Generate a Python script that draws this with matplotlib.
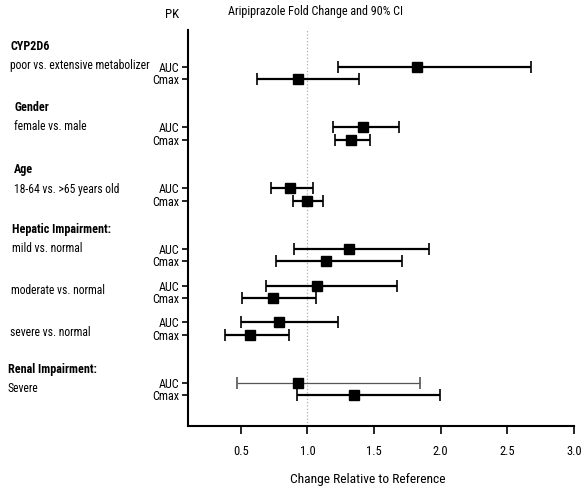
import matplotlib
matplotlib.use("Agg")
import matplotlib.pyplot as plt

# ---------------- data ----------------
groups = ["CYP2D6", "Gender", "Age", "Hepatic Impairment:", "", "", "Renal Impairment:"]
comparisons = ["poor vs. extensive metabolizer", "female vs. male", "18-64 vs. >65 years old",
               "mild vs. normal", "moderate vs. normal", "severe vs. normal", "Severe"]
pk_params = ["AUC", "Cmax"]

auc_point = [1.82, 1.42, 0.87, 1.31, 1.07, 0.785, 0.93]
auc_low   = [1.23, 1.19, 0.73, 0.90, 0.69, 0.50, 0.475]
auc_high  = [2.68, 1.69, 1.04, 1.91, 1.67, 1.23, 1.845]

cmax_point = [0.93, 1.33, 1.00, 1.14, 0.74, 0.57, 1.35]
cmax_low   = [0.625, 1.21, 0.89, 0.765, 0.51, 0.38, 0.925]
cmax_high  = [1.385, 1.47, 1.12, 1.71, 1.065, 0.86, 1.995]

xticks = [0.5, 1.0, 1.5, 2.0, 2.5, 3.0]
xtick_labels = ["0.5", "1.0", "1.5", "2.0", "2.5", "3.0"]

# ---------------- layout ----------------
group_pos = [0.0, 4.9, 9.85, 14.75, 17.75, 20.7, 25.6]
row_gap = 1.0

plt.rcParams["font.family"] = ["Roboto Condensed", "Liberation Sans", "DejaVu Sans"]
FS = 8.75

fig = plt.figure(figsize=(5.85, 4.93), dpi=100)
ax = fig.add_axes([187.5 / 585, 1 - 426 / 493, (574 - 187.5) / 585, (426 - 30) / 493])

px = 12.35  # pixels per row unit
y_top = -(66.7 - 30) / px
y_bot = y_top + (426 - 30) / px
ax.set_ylim(y_bot, y_top)
ax.set_xlim(0.1, 3.0)

ax.axvline(1.0, color="#b0b0b0", lw=0.9, ls=":", zorder=0)

yt, ytl = [], []
for i in range(len(comparisons)):
    ya = group_pos[i]
    yc = ya + row_gap
    thin = (i == len(comparisons) - 1)
    ax.errorbar(auc_point[i], ya,
                xerr=[[auc_point[i] - auc_low[i]], [auc_high[i] - auc_point[i]]],
                fmt="s", color="black", ms=6.5, capsize=4.5,
                elinewidth=(0.9 if thin else 1.6), capthick=1.2, ecolor=("#555555" if thin else "black"))
    ax.errorbar(cmax_point[i], yc,
                xerr=[[cmax_point[i] - cmax_low[i]], [cmax_high[i] - cmax_point[i]]],
                fmt="s", color="black", ms=6.5, capsize=4.5,
                elinewidth=1.6, capthick=1.2, ecolor="black")
    yt += [ya, yc]
    ytl += pk_params

ax.set_yticks(yt)
ax.set_yticklabels(ytl, fontsize=FS)
ax.tick_params(axis="y", length=4.5, width=1.2, pad=1.5)
ax.set_xticks(xticks)
ax.set_xticklabels(xtick_labels, fontsize=FS + 0.25)
ax.tick_params(axis="x", length=6, width=1.2, pad=8, direction="out")

for s in ["top", "right"]:
    ax.spines[s].set_visible(False)
ax.spines["left"].set_linewidth(1.5)
ax.spines["bottom"].set_linewidth(1.5)

def ftext(x, y, s, **kw):
    fig.text(x / 585, 1 - y / 493, s, va="center", **kw)

ftext(316, 12, "Aripiprazole Fold Change and 90% CI", ha="center", fontsize=FS)
ftext(172, 15, "PK", ha="center", fontsize=FS + 0.5)
ftext(368, 480, "Change Relative to Reference", ha="center", fontsize=9.7)

bold_pos = [(10, 47), (14, 108), (14, 170), (12, 230), None, None, (8, 369)]
sub_pos = [(10, 66), (14, 127), (14, 189), (12, 249), (11, 290), (10, 332), (8, 388)]
for i in range(len(comparisons)):
    if bold_pos[i] is not None:
        ftext(bold_pos[i][0], bold_pos[i][1], groups[i], ha="left", fontsize=FS, fontweight="bold")
    ftext(sub_pos[i][0], sub_pos[i][1], comparisons[i], ha="left", fontsize=8.4)

fig.savefig("out.png", dpi=100)
